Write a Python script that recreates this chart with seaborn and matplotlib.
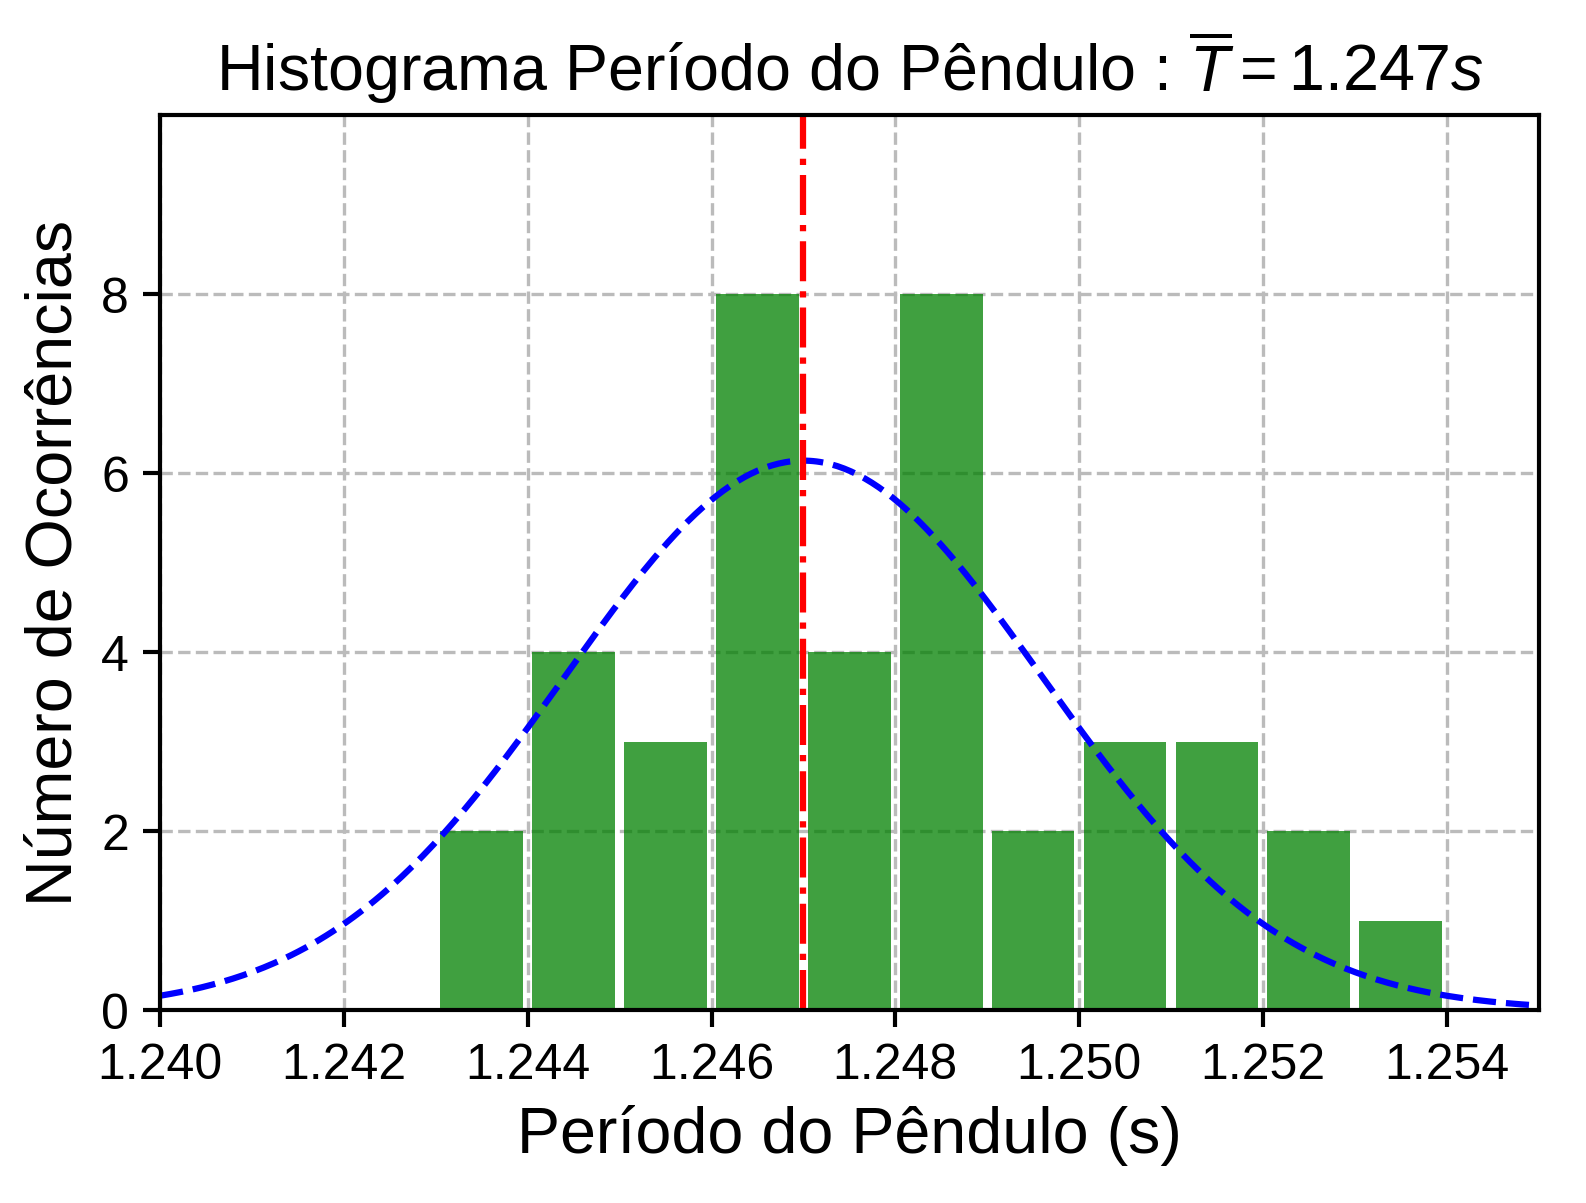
import numpy as np
import pandas as pd
import matplotlib
matplotlib.use("Agg")
import matplotlib.pyplot as plt
import seaborn as sns

sns.set_theme(style="ticks")
plt.rcParams['font.family'] = ['Liberation Sans', 'DejaVu Sans']
plt.rcParams['mathtext.fontset'] = 'custom'
plt.rcParams['mathtext.rm'] = 'Liberation Sans'
plt.rcParams['mathtext.it'] = 'Liberation Sans:italic'
plt.rcParams['text.color'] = 'black'
plt.rcParams['axes.labelcolor'] = 'black'
plt.rcParams['xtick.color'] = 'black'
plt.rcParams['ytick.color'] = 'black'

# histogram bins (lower edges, s) and counts
bin_left = [1.243, 1.244, 1.245, 1.246, 1.247, 1.248, 1.249, 1.250, 1.251, 1.252, 1.253]
counts = [2, 4, 3, 8, 4, 8, 2, 3, 3, 2, 1]
bin_width = 0.001

# fitted normal curve parameters
mean_T = 1.247
sigma_T = 0.0026
n_total = sum(counts)

df = pd.DataFrame({"center": np.array(bin_left) + bin_width / 2, "count": counts})

fig, ax = plt.subplots(figsize=(5.287, 4.013), dpi=300)
ax.set_axisbelow(True)
ax.grid(True, linestyle='--', color='#bbbbbb', linewidth=0.8)

sns.histplot(data=df, x="center", weights="count", binwidth=bin_width,
             binrange=(bin_left[0], bin_left[-1] + bin_width), shrink=0.9,
             color='green', alpha=0.75, edgecolor='none', ax=ax)

x = np.linspace(1.240, 1.255, 400)
y = n_total * bin_width / (sigma_T * np.sqrt(2 * np.pi)) * np.exp(-(x - mean_T) ** 2 / (2 * sigma_T ** 2))
sns.lineplot(x=x, y=y, color='blue', linestyle='--', linewidth=1.5, ax=ax)
ax.axvline(mean_T, color='red', linestyle='-.', linewidth=1.5)

ax.set_xlim(1.240, 1.255)
ax.set_ylim(0, 10)
ticks = np.arange(1.240, 1.2541, 0.002)
ax.set_xticks(ticks)
ax.set_xticklabels([f"{v:.3f}" for v in ticks])
ax.set_yticks([0, 2, 4, 6, 8])
ax.tick_params(labelsize=12, length=4, width=1)
for s in ax.spines.values():
    s.set_color('black')
    s.set_linewidth(1)

ax.set_title(r"Histograma Período do Pêndulo : $\overline{T} = 1.247s$", fontsize=15.5)
ax.set_xlabel("Período do Pêndulo (s)", fontsize=15.5)
ax.set_ylabel("Número de Ocorrências", fontsize=15.5)

fig.subplots_adjust(left=0.101, right=0.970, top=0.904, bottom=0.160)
fig.savefig("out.png", dpi=300)
